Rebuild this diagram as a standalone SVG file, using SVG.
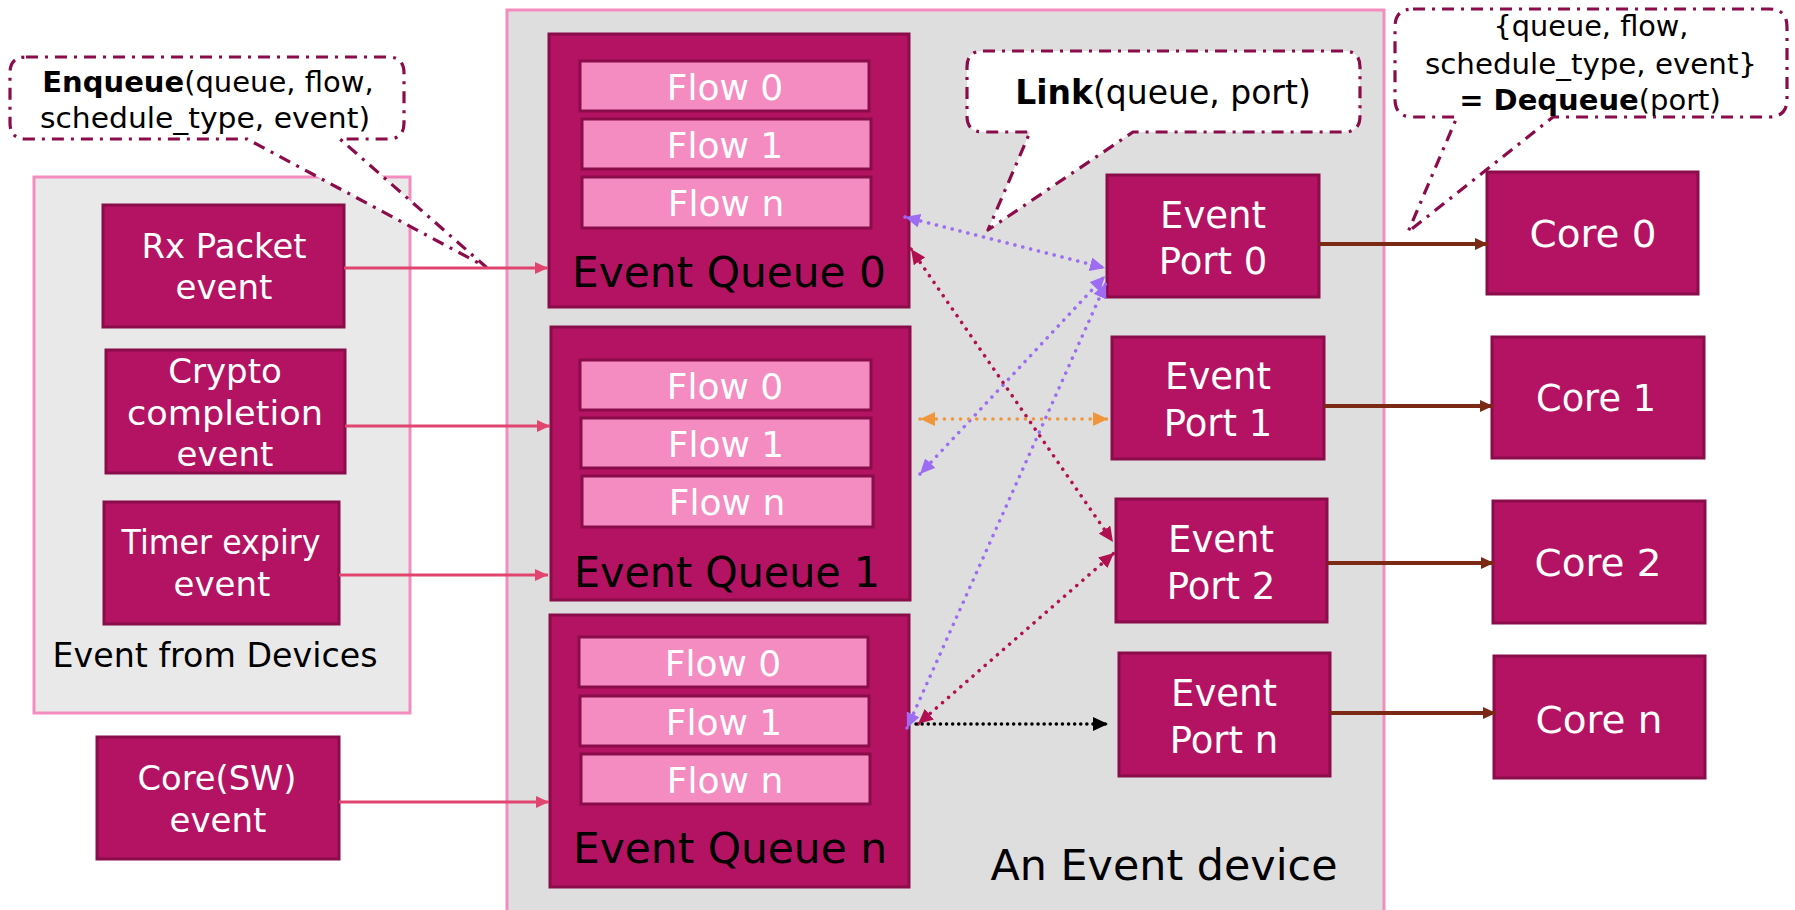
<svg xmlns="http://www.w3.org/2000/svg" width="1795" height="910" viewBox="0 0 1795 910">
  <style>
    .txt { font-family: "DejaVu Sans", "Liberation Sans", sans-serif; }
    .node { fill: #b41363; stroke: #8a0c4b; stroke-width: 3; }
    .flow { fill: #f48bc1; stroke: #8a0c4b; stroke-width: 3; }
    .container { stroke: #f48cbf; stroke-width: 3; }
    .callout { fill: #ffffff; stroke: #8a0c4b; stroke-width: 3.2; stroke-dasharray: 12 7 3 7; stroke-linejoin: round; }
    .lbl { fill: #ffffff; text-anchor: middle; font-size: 34px; }
    .flowlbl { fill: #ffffff; text-anchor: middle; font-size: 36px; }
    .qlbl { fill: #000000; text-anchor: middle; font-size: 42px; }
    .portlbl { fill: #ffffff; text-anchor: middle; font-size: 37px; }
    .corelbl { fill: #ffffff; text-anchor: middle; font-size: 38px; }
    .ctext { fill: #000000; text-anchor: middle; font-size: 29px; }
    .ctext-big { fill: #000000; text-anchor: middle; font-size: 33px; }
    .in { stroke: #e0446f; stroke-width: 3; fill: none; marker-end: url(#headPink); }
    .out { stroke: #7b2815; stroke-width: 4; fill: none; marker-end: url(#headBrown); }
    .dot { stroke-width: 3.5; stroke-linecap: round; stroke-dasharray: 0.1 8; fill: none; }
    .dot-dense { stroke-width: 3.5; stroke-linecap: round; stroke-dasharray: 0.1 6; fill: none; }
  </style>
  <defs>
    <marker id="headPink" markerUnits="userSpaceOnUse" markerWidth="14" markerHeight="14" refX="13" refY="7" orient="auto">
      <path d="M0,1 L13,7 L0,13 Z" fill="#e0446f"/>
    </marker>
    <marker id="headBrown" markerUnits="userSpaceOnUse" markerWidth="14" markerHeight="14" refX="13" refY="7" orient="auto">
      <path d="M0,1 L13,7 L0,13 Z" fill="#7b2815"/>
    </marker>
    <marker id="headPurple" markerUnits="userSpaceOnUse" markerWidth="16" markerHeight="14" refX="15" refY="7" orient="auto-start-reverse">
      <path d="M0,0 L15,7 L0,14 Z" fill="#9d6cf2"/>
    </marker>
    <marker id="headCrimson" markerUnits="userSpaceOnUse" markerWidth="16" markerHeight="14" refX="15" refY="7" orient="auto-start-reverse">
      <path d="M0,0 L15,7 L0,14 Z" fill="#b0104f"/>
    </marker>
    <marker id="headOrange" markerUnits="userSpaceOnUse" markerWidth="16" markerHeight="14" refX="15" refY="7" orient="auto-start-reverse">
      <path d="M0,0 L15,7 L0,14 Z" fill="#f0963a"/>
    </marker>
    <marker id="headBlack" markerUnits="userSpaceOnUse" markerWidth="16" markerHeight="14" refX="15" refY="7" orient="auto-start-reverse">
      <path d="M0,0 L15,7 L0,14 Z" fill="#000000"/>
    </marker>
  </defs>

  <rect width="1795" height="910" fill="#ffffff"/>

  <!-- containers -->
  <g id="event-device">
    <rect class="container" x="507" y="10" width="877" height="905" fill="#dedede"/>
    <text class="txt" x="1164" y="880" font-size="42" text-anchor="middle" fill="#000000" textLength="347" lengthAdjust="spacingAndGlyphs">An Event device</text>
  </g>
  <g id="event-from-devices">
    <rect class="container" x="34" y="177" width="376" height="536" fill="#e9e9e9"/>
    <text class="txt" x="215" y="667" font-size="33" text-anchor="middle" fill="#000000" textLength="325" lengthAdjust="spacingAndGlyphs">Event from Devices</text>
  </g>

  <!-- callouts -->
  <g id="callout-enqueue">
    <path class="callout" d="M26,57 H388 Q404,57 404,73 V123 Q404,139 388,139 H340 L486,267 L247,139 H26 Q10,139 10,123 V73 Q10,57 26,57 Z"/>
    <text class="txt ctext" x="208" y="92"><tspan font-weight="bold">Enqueue</tspan>(queue, flow,</text>
    <text class="txt ctext" x="205" y="128" textLength="330" lengthAdjust="spacingAndGlyphs">schedule_type, event)</text>
  </g>
  <g id="callout-link">
    <path class="callout" d="M983,51 H1344 Q1360,51 1360,67 V116 Q1360,132 1344,132 H1133 L988,230 L1030,132 H983 Q967,132 967,116 V67 Q967,51 983,51 Z"/>
    <text class="txt ctext-big" x="1163" y="104"><tspan font-weight="bold">Link</tspan>(queue, port)</text>
  </g>
  <g id="callout-dequeue">
    <path class="callout" d="M1413,9 H1769 Q1787,9 1787,27 V99 Q1787,117 1769,117 H1553 L1408,232 L1457,117 H1413 Q1395,117 1395,99 V27 Q1395,9 1413,9 Z"/>
    <text class="txt ctext" x="1591" y="36" textLength="195" lengthAdjust="spacingAndGlyphs">{queue, flow,</text>
    <text class="txt ctext" x="1591" y="74" textLength="332" lengthAdjust="spacingAndGlyphs">schedule_type, event}</text>
    <text class="txt ctext" x="1590" y="110"><tspan font-weight="bold">= Dequeue</tspan>(port)</text>
  </g>

  <!-- event sources -->
  <g id="rx-packet">
    <rect class="node" x="103" y="205" width="241" height="122"/>
    <text class="txt lbl" x="224" y="258" textLength="165" lengthAdjust="spacingAndGlyphs">Rx Packet</text>
    <text class="txt lbl" x="224" y="299">event</text>
  </g>
  <g id="crypto">
    <rect class="node" x="106" y="350" width="239" height="123"/>
    <text class="txt lbl" x="225" y="383">Crypto</text>
    <text class="txt lbl" x="225" y="425" textLength="196" lengthAdjust="spacingAndGlyphs">completion</text>
    <text class="txt lbl" x="225" y="466">event</text>
  </g>
  <g id="timer">
    <rect class="node" x="104" y="502" width="235" height="122"/>
    <text class="txt lbl" x="221" y="554" textLength="199" lengthAdjust="spacingAndGlyphs">Timer expiry</text>
    <text class="txt lbl" x="222" y="596">event</text>
  </g>
  <g id="core-sw">
    <rect class="node" x="97" y="737" width="242" height="122"/>
    <text class="txt lbl" x="217" y="790" textLength="159" lengthAdjust="spacingAndGlyphs">Core(SW)</text>
    <text class="txt lbl" x="218" y="832">event</text>
  </g>

  <!-- event queues -->
  <g id="queue-0">
    <rect class="node" x="549" y="34" width="360" height="273"/>
    <rect class="flow" x="580" y="61" width="289" height="50"/>
    <rect class="flow" x="582" y="119" width="289" height="50"/>
    <rect class="flow" x="582" y="177" width="289" height="51"/>
    <text class="txt flowlbl" x="725" y="100">Flow 0</text>
    <text class="txt flowlbl" x="725" y="158">Flow 1</text>
    <text class="txt flowlbl" x="726" y="216">Flow n</text>
    <text class="txt qlbl" x="729" y="287" textLength="314" lengthAdjust="spacingAndGlyphs">Event Queue 0</text>
  </g>
  <g id="queue-1">
    <rect class="node" x="551" y="327" width="359" height="273"/>
    <rect class="flow" x="580" y="360" width="291" height="50"/>
    <rect class="flow" x="581" y="418" width="290" height="50"/>
    <rect class="flow" x="582" y="476" width="291" height="51"/>
    <text class="txt flowlbl" x="725" y="399">Flow 0</text>
    <text class="txt flowlbl" x="726" y="457">Flow 1</text>
    <text class="txt flowlbl" x="727" y="515">Flow n</text>
    <text class="txt qlbl" x="727" y="587" textLength="306" lengthAdjust="spacingAndGlyphs">Event Queue 1</text>
  </g>
  <g id="queue-n">
    <rect class="node" x="550" y="615" width="359" height="272"/>
    <rect class="flow" x="579" y="637" width="289" height="50"/>
    <rect class="flow" x="580" y="696" width="289" height="50"/>
    <rect class="flow" x="581" y="754" width="289" height="50"/>
    <text class="txt flowlbl" x="723" y="676">Flow 0</text>
    <text class="txt flowlbl" x="724" y="735">Flow 1</text>
    <text class="txt flowlbl" x="725" y="793">Flow n</text>
    <text class="txt qlbl" x="730" y="863" textLength="314" lengthAdjust="spacingAndGlyphs">Event Queue n</text>
  </g>

  <!-- event ports -->
  <g id="port-0">
    <rect class="node" x="1107" y="175" width="212" height="122"/>
    <text class="txt portlbl" x="1213" y="228">Event</text>
    <text class="txt portlbl" x="1213" y="274">Port 0</text>
  </g>
  <g id="port-1">
    <rect class="node" x="1112" y="337" width="212" height="122"/>
    <text class="txt portlbl" x="1218" y="389">Event</text>
    <text class="txt portlbl" x="1218" y="436">Port 1</text>
  </g>
  <g id="port-2">
    <rect class="node" x="1116" y="499" width="211" height="123"/>
    <text class="txt portlbl" x="1221" y="552">Event</text>
    <text class="txt portlbl" x="1221" y="599">Port 2</text>
  </g>
  <g id="port-n">
    <rect class="node" x="1119" y="653" width="211" height="123"/>
    <text class="txt portlbl" x="1224" y="706">Event</text>
    <text class="txt portlbl" x="1224" y="753">Port n</text>
  </g>

  <!-- cores -->
  <g id="core-0">
    <rect class="node" x="1487" y="172" width="211" height="122"/>
    <text class="txt corelbl" x="1593" y="247" textLength="127" lengthAdjust="spacingAndGlyphs">Core 0</text>
  </g>
  <g id="core-1">
    <rect class="node" x="1492" y="337" width="212" height="121"/>
    <text class="txt corelbl" x="1596" y="411" textLength="120" lengthAdjust="spacingAndGlyphs">Core 1</text>
  </g>
  <g id="core-2">
    <rect class="node" x="1493" y="501" width="212" height="122"/>
    <text class="txt corelbl" x="1598" y="576" textLength="127" lengthAdjust="spacingAndGlyphs">Core 2</text>
  </g>
  <g id="core-n">
    <rect class="node" x="1494" y="656" width="211" height="122"/>
    <text class="txt corelbl" x="1599" y="733" textLength="127" lengthAdjust="spacingAndGlyphs">Core n</text>
  </g>

  <!-- connectors -->
  <g id="connectors">
    <!-- enqueue into the event queues -->
    <line class="in" x1="344" y1="268" x2="548" y2="268"/>
    <line class="in" x1="345" y1="426" x2="550" y2="426"/>
    <line class="in" x1="339" y1="575" x2="548" y2="575"/>
    <line class="in" x1="339" y1="802" x2="549" y2="802"/>

    <!-- queue to port links -->
    <line class="dot" stroke="#9d6cf2" x1="905" y1="217" x2="1105" y2="268" marker-start="url(#headPurple)" marker-end="url(#headPurple)"/>
    <line class="dot" stroke="#9d6cf2" x1="920" y1="474" x2="1105" y2="276" marker-start="url(#headPurple)" marker-end="url(#headPurple)"/>
    <line class="dot" stroke="#9d6cf2" x1="907" y1="728" x2="1106" y2="283" marker-start="url(#headPurple)" marker-end="url(#headPurple)"/>
    <line class="dot" stroke="#b0104f" x1="911" y1="249" x2="1113" y2="542" marker-start="url(#headCrimson)" marker-end="url(#headCrimson)"/>
    <line class="dot" stroke="#b0104f" x1="918" y1="724" x2="1114" y2="553" marker-start="url(#headCrimson)" marker-end="url(#headCrimson)"/>
    <line class="dot" stroke="#f0963a" x1="920" y1="419" x2="1108" y2="419" marker-start="url(#headOrange)" marker-end="url(#headOrange)"/>
    <line class="dot-dense" stroke="#000000" x1="916" y1="724" x2="1108" y2="724" marker-end="url(#headBlack)"/>

    <!-- dequeue to the cores -->
    <line class="out" x1="1319" y1="244" x2="1488" y2="244"/>
    <line class="out" x1="1324" y1="406" x2="1493" y2="406"/>
    <line class="out" x1="1327" y1="563" x2="1494" y2="563"/>
    <line class="out" x1="1330" y1="713" x2="1496" y2="713"/>
  </g>
</svg>
